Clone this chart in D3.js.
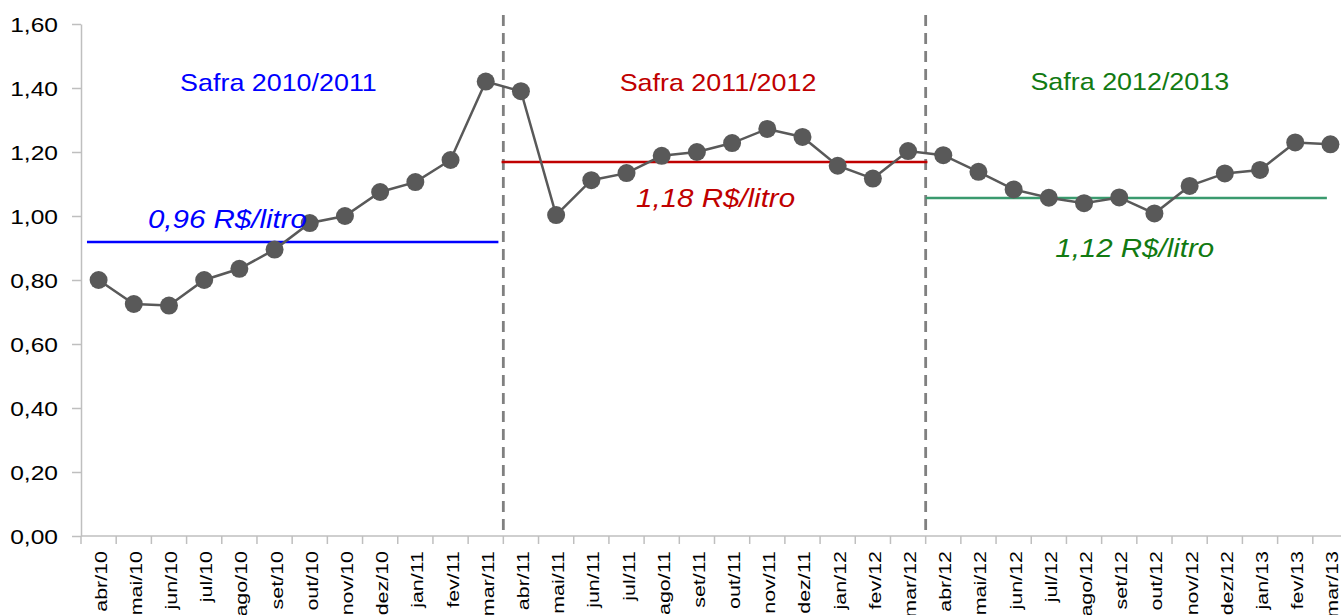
<!DOCTYPE html>
<html lang="pt">
<head>
    <meta charset="UTF-8">
    <title>Preço médio por safra</title>
    <script src="https://d3js.org/d3.v7.min.js"></script>
    <style>
        body { margin: 0; background: #fff; }
        text { font-family: "Liberation Sans", Arial, sans-serif; }
        .axis path, .axis line { stroke: #bfbfbf; stroke-width: 1.5px; }
        .axis text { fill: #000; }
    </style>
</head>
<body>
    <svg width="1341" height="615"></svg>

    <script>
        // months (abr/10 .. mar/13)
        const months = [
            'abr/10','mai/10','jun/10','jul/10','ago/10','set/10','out/10','nov/10','dez/10','jan/11','fev/11','mar/11',
            'abr/11','mai/11','jun/11','jul/11','ago/11','set/11','out/11','nov/11','dez/11','jan/12','fev/12','mar/12',
            'abr/12','mai/12','jun/12','jul/12','ago/12','set/12','out/12','nov/12','dez/12','jan/13','fev/13','mar/13'
        ];

        // price in R$/litro
        const prices = [
            0.80, 0.725, 0.72, 0.80, 0.835, 0.895, 0.978, 1.00, 1.075, 1.106, 1.175, 1.42,
            1.39, 1.003, 1.112, 1.134, 1.188, 1.20, 1.228, 1.272, 1.247, 1.157, 1.117, 1.203,
            1.19, 1.138, 1.083, 1.057, 1.04, 1.058, 1.008, 1.094, 1.133, 1.144, 1.23, 1.224
        ];

        const yTicks = [0, 0.2, 0.4, 0.6, 0.8, 1.0, 1.2, 1.4, 1.6];

        // seasons: label, average label, level of average line, colours
        const seasons = ['Safra 2010/2011', 'Safra 2011/2012', 'Safra 2012/2013'];
        const seasonAvgLabels = ['0,96 R$/litro', '1,18 R$/litro', '1,12 R$/litro'];
        const seasonAvgLines = [0.919, 1.169, 1.056];
        const seasonBreaks = ['abr/11', 'abr/12'];

        const textColors = ['#0000ff', '#c00000', '#127a12'];
        const lineColors = ['#0000ff', '#c00000', '#3a9a6e'];
        // placement in band units
        const lineSpan = [[0.17, 11.86], [11.95, 24.05], [24.0, 35.4]];
        const titlePos = [[5.61, 91], [18.1, 91], [29.8, 90]];
        const avgPos = [[4.16, 228], [18.03, 207], [29.94, 257]];

        const svg = d3.select('svg');
        const x0 = 81, x1 = 1348;
        const x = d3.scaleBand().domain(months).range([x0, x1]).padding(0);
        const bw = x.bandwidth();
        const y = d3.scaleLinear().domain([0, 1.6]).range([536, 24]);
        const cx = d => x(d) + bw / 2;
        const u = v => x0 + v * bw;

        // y axis
        const yAxis = svg.append('g').attr('class', 'axis')
            .attr('transform', `translate(${x0},0)`)
            .call(d3.axisLeft(y).tickValues(yTicks).tickSize(9).tickSizeOuter(0)
                .tickFormat(d => d3.format('.2f')(d).replace('.', ',')));
        yAxis.selectAll('text')
            .attr('font-size', 21)
            .attr('x', null).attr('dy', null)
            .attr('text-anchor', 'end')
            .attr('transform', 'translate(-23,7.5) scale(1.17,1)');

        // x axis
        const xAxis = svg.append('g').attr('class', 'axis')
            .attr('transform', `translate(0,${y(0)})`)
            .call(d3.axisBottom(x).tickSize(0).tickSizeOuter(0));
        xAxis.select('.domain').attr('d', `M${x0},0H${x1}`);
        xAxis.selectAll('.tick line').remove();
        xAxis.selectAll('.tick text')
            .attr('font-size', 16.5)
            .attr('y', null).attr('dy', null)
            .attr('text-anchor', 'end')
            .attr('transform', `translate(8,15) rotate(-90) scale(1.3,1)`);
        xAxis.selectAll('.bline')
            .data(d3.range(months.length + 1))
            .enter().append('line')
            .attr('x1', i => u(i)).attr('x2', i => u(i))
            .attr('y1', 0).attr('y2', 8)
            .attr('stroke', '#bfbfbf').attr('stroke-width', 1.5);

        // season separators
        svg.selectAll('.sep')
            .data(seasonBreaks)
            .enter().append('line')
            .attr('x1', d => x(d)).attr('x2', d => x(d))
            .attr('y1', 15).attr('y2', y(0))
            .attr('stroke', '#808080').attr('stroke-width', 2.8)
            .attr('stroke-dasharray', '11,7');

        // season averages
        svg.selectAll('.avg')
            .data(seasonAvgLines)
            .enter().append('line')
            .attr('x1', (d, i) => u(lineSpan[i][0]))
            .attr('x2', (d, i) => u(lineSpan[i][1]))
            .attr('y1', d => y(d)).attr('y2', d => y(d))
            .attr('stroke', (d, i) => lineColors[i]).attr('stroke-width', 2.5);

        // price line and markers
        const pts = months.map((m, i) => ({ m, v: prices[i] }));
        svg.append('path')
            .datum(pts)
            .attr('fill', 'none')
            .attr('stroke', '#595959').attr('stroke-width', 2.5)
            .attr('d', d3.line().x(d => cx(d.m)).y(d => y(d.v)));
        svg.selectAll('.pt')
            .data(pts)
            .enter().append('circle')
            .attr('cx', d => cx(d.m)).attr('cy', d => y(d.v))
            .attr('r', 9).attr('fill', '#595959');

        // season titles
        svg.selectAll('.title')
            .data(seasons)
            .enter().append('text')
            .attr('text-anchor', 'middle')
            .attr('font-size', 24)
            .attr('fill', (d, i) => textColors[i])
            .attr('transform', (d, i) => `translate(${u(titlePos[i][0])},${titlePos[i][1]}) scale(1.12,1)`)
            .text(d => d);

        // average labels
        svg.selectAll('.avgLabel')
            .data(seasonAvgLabels)
            .enter().append('text')
            .attr('text-anchor', 'middle')
            .attr('font-size', 25)
            .attr('font-style', 'italic')
            .attr('fill', (d, i) => textColors[i])
            .attr('transform', (d, i) => `translate(${u(avgPos[i][0])},${avgPos[i][1]}) scale(1.18,1)`)
            .text(d => d);
    </script>
</body>
</html>
